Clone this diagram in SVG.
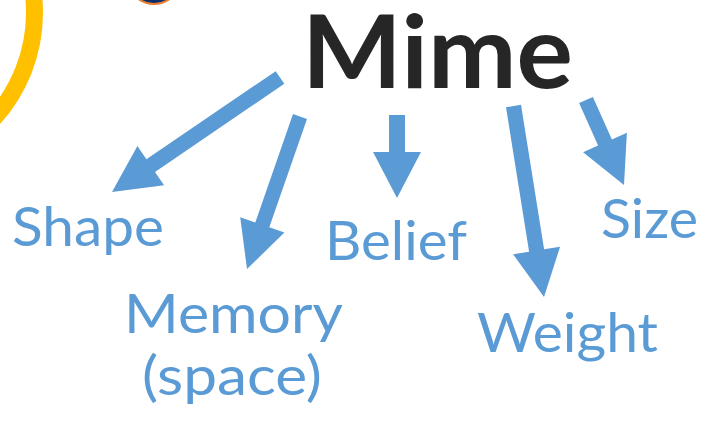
<svg xmlns="http://www.w3.org/2000/svg" width="719" height="446" viewBox="0 0 719 446">
<style>
.lbl{font-family:Lato,"Open Sans","Liberation Sans",sans-serif;fill:#5B9BD5;font-size:54px}
.arr{fill:#5B9BD5}
</style>
<rect width="719" height="446" fill="#ffffff"/>
<circle cx="-122.8" cy="12.6" r="157.3" fill="none" stroke="#FFC000" stroke-width="17"/>
<circle cx="154" cy="-22.5" r="26.5" fill="#0E2F6B" stroke="#ED7D31" stroke-width="2"/>
<g id="mime"><text x="302" y="88" font-family="Lato,'Open Sans','Liberation Sans',sans-serif" font-size="101" font-weight="700" fill="#262626" textLength="271" lengthAdjust="spacingAndGlyphs">Mime</text></g>
<g id="connectors">
<polygon class="arr" points="284.3,83.8 155,171.9 164.1,185.2 112,192 137.4,146 146.4,159.3 275.7,71.2"/>
<polygon class="arr" points="307,118.9 269.3,227.3 284.4,232.6 247,269 240.2,217.2 255.3,222.5 293,114.1"/>
<polygon class="arr" points="405,115 405,152 421,152 397,198 373,152 389,152 389,115"/>
<polygon class="arr" points="521,104.8 544.1,249.3 560.1,246.7 544,297 513.1,254.2 529.1,251.7 506,107.2"/>
<polygon class="arr" points="592.9,96.9 611.9,139.4 626.9,132.7 624,185 583.1,152.3 598.1,145.6 579.1,103.1"/>
</g>
<g id="shape"><text class="lbl" x="12" y="246" textLength="152" lengthAdjust="spacingAndGlyphs">Shape</text></g>
<g id="memory"><text class="lbl" x="124" y="333" textLength="219" lengthAdjust="spacingAndGlyphs">Memory</text><text class="lbl" x="142" y="395" textLength="180" lengthAdjust="spacingAndGlyphs">(space)</text></g>
<g id="belief"><text class="lbl" x="325" y="260" textLength="142" lengthAdjust="spacingAndGlyphs">Belief</text></g>
<g id="weight"><text class="lbl" x="477" y="352" textLength="181" lengthAdjust="spacingAndGlyphs">Weight</text></g>
<g id="size"><text class="lbl" x="601" y="238" textLength="97" lengthAdjust="spacingAndGlyphs">Size</text></g>
</svg>
